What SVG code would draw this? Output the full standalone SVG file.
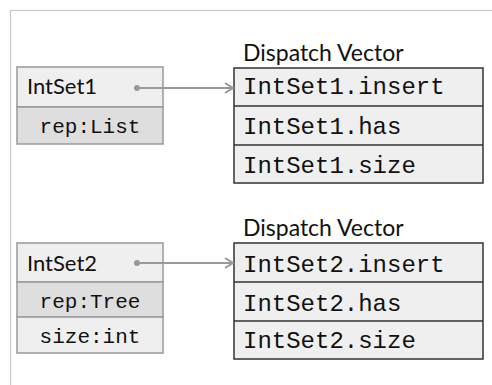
<svg xmlns="http://www.w3.org/2000/svg" width="492" height="385" viewBox="0 0 492 385">
<defs>
<marker id="arr" markerWidth="12" markerHeight="12" refX="10" refY="6" orient="auto" markerUnits="userSpaceOnUse">
<polyline points="2,1 10,6 2,11" fill="none" stroke="#999" stroke-width="2"/>
</marker>
</defs>
<style>
.frame{fill:none;stroke:#c8c8c8;stroke-width:1.2}
.obj{stroke:#999;stroke-width:1.5}
.l1{fill:#efefef}
.l2{fill:#dedede}
.vec{fill:#efefef;stroke:#333;stroke-width:1.5}
.sep{stroke:#333;stroke-width:1.5}
.name{font-family:Lato,"Open Sans",sans-serif;font-size:22px;fill:#111}
.title{font-family:Lato,"Open Sans",sans-serif;font-size:23px;fill:#111}
.mono{font-family:"Liberation Mono","Courier New",monospace;font-size:24px;fill:#111}
.monos{font-family:"Liberation Mono","Courier New",monospace;font-size:21px;fill:#111;text-anchor:middle}
.conn{stroke:#999;stroke-width:2;fill:none}
</style>
<rect class="frame" x="10.5" y="10.5" width="500" height="400"/>
<g id="intset1">
<rect class="l1 obj" x="17" y="67" width="146" height="40"/>
<rect class="l2 obj" x="17" y="107" width="146" height="37"/>
<text class="name" x="27" y="94">IntSet1</text>
<text class="monos" x="90" y="133">rep:List</text>
</g>
<g id="vector1">
<text class="title" x="243" y="61">Dispatch Vector</text>
<rect class="vec" x="234" y="68" width="249" height="115"/>
<line class="sep" x1="234" y1="106" x2="483" y2="106"/>
<line class="sep" x1="234" y1="145" x2="483" y2="145"/>
<text class="mono" x="243" y="94">IntSet1.insert</text>
<text class="mono" x="243" y="134">IntSet1.has</text>
<text class="mono" x="243" y="173">IntSet1.size</text>
</g>
<g id="intset2">
<rect class="l1 obj" x="17" y="243" width="146" height="39"/>
<rect class="l2 obj" x="17" y="282" width="146" height="35"/>
<rect class="l1 obj" x="17" y="317" width="146" height="36"/>
<text class="name" x="27" y="271">IntSet2</text>
<text class="monos" x="90" y="308">rep:Tree</text>
<text class="monos" x="90" y="343">size:int</text>
</g>
<g id="vector2">
<text class="title" x="243" y="236">Dispatch Vector</text>
<rect class="vec" x="234" y="243" width="249" height="116"/>
<line class="sep" x1="234" y1="282" x2="483" y2="282"/>
<line class="sep" x1="234" y1="321" x2="483" y2="321"/>
<text class="mono" x="243" y="272">IntSet2.insert</text>
<text class="mono" x="243" y="311">IntSet2.has</text>
<text class="mono" x="243" y="348">IntSet2.size</text>
</g>
<g id="connectors">
<circle cx="137" cy="88" r="3" fill="#999"/>
<line class="conn" x1="137" y1="88" x2="233" y2="88" marker-end="url(#arr)"/>
<circle cx="137" cy="263" r="3" fill="#999"/>
<line class="conn" x1="137" y1="263" x2="233" y2="263" marker-end="url(#arr)"/>
</g>
</svg>
